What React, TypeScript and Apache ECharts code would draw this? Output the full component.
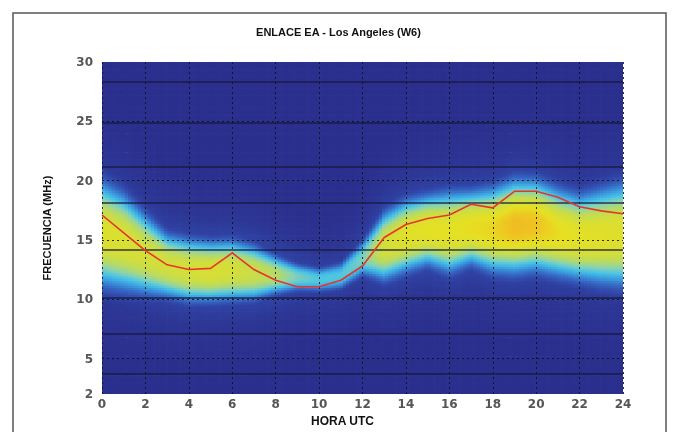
import React, { useEffect, useRef } from 'react';
import * as echarts from 'echarts';

// ---- data ----
const hours = [0, 1, 2, 3, 4, 5, 6, 7, 8, 9, 10, 11, 12, 13, 14, 15, 16, 17, 18, 19, 20, 21, 22, 23, 24];
// red curve (MHz)
const mufValues = [17.1, 15.6, 14.1, 12.9, 12.5, 12.6, 13.9, 12.5, 11.6, 11.05, 11.05, 11.6, 12.8, 15.2, 16.3, 16.8, 17.1, 18.0, 17.7, 19.1, 19.1, 18.6, 17.8, 17.45, 17.2];
// coloured band behind the curve: centre, half width (MHz) and peak intensity per hour
const bandCenter = [15.6, 14.9, 13.85, 12.9, 12.5, 12.4, 12.5, 12.3, 12.1, 11.9, 11.7, 12.0, 13.5, 14.5, 15.4, 15.9, 15.7, 16.1, 15.9, 16.2, 16.3, 15.7, 15.25, 15.35, 15.5];
const bandHalfWidth = [3.8, 3.5, 2.9, 2.3, 2.3, 2.2, 2.2, 2.0, 1.4, 1.0, 0.9, 1.0, 1.3, 2.5, 2.6, 2.5, 2.9, 2.6, 3.0, 3.3, 3.2, 3.1, 3.05, 3.4, 3.7];
const bandPeak = [0.85, 0.84, 0.81, 0.8, 0.81, 0.83, 0.81, 0.77, 0.71, 0.58, 0.52, 0.52, 0.58, 0.81, 0.87, 0.89, 0.89, 0.91, 0.93, 1.0, 0.98, 0.91, 0.88, 0.87, 0.86];
// axis ticks
const yTickValues = [2, 5, 10, 15, 20, 25, 30];
const gridFreqs = [5, 10, 15, 20, 25];
// amateur band marker lines (MHz)
const bandLines = [3.7, 7.1, 10.1, 14.2, 18.1, 21.2, 24.9, 28.3];

const colorScale = ['#2b2f8d', '#2d3796', '#3149ab', '#3669c4', '#3b97dc', '#45c2e8', '#86d2b4', '#b6da66', '#d2de3c', '#e6e022', '#f0bc22'];

function interp(arr: number[], t: number) {
  const k = Math.min(Math.floor(t), arr.length - 2);
  const fr = t - k;
  return arr[k] * (1 - fr) + arr[k + 1] * fr;
}

const COLS = 160;
const ROWS = 140;
const DT = 24 / COLS;
const DF = 28 / ROWS;

function buildField() {
  const out: number[][] = [];
  for (let i = 0; i < COLS; i++) {
    const t0 = i * DT;
    const tc = t0 + DT / 2;
    const c = interp(bandCenter, tc);
    const w = interp(bandHalfWidth, tc);
    const p = interp(bandPeak, tc);
    for (let j = 0; j < ROWS; j++) {
      const f0 = 2 + j * DF;
      const fc = f0 + DF / 2;
      const d = Math.abs(fc - c) / w;
      const core = p * Math.exp(-0.693 * Math.pow(d, 2.6));
      const hz = (fc - c) / (w + 2.5);
      const halo = 0.3 * p * Math.exp(-hz * hz);
      out.push([t0, f0, Math.min(1, Math.max(core, halo))]);
    }
  }
  return out;
}

export default function App() {
  const ref = useRef<HTMLDivElement>(null);
  useEffect(() => {
    if (!ref.current) return;
    const chart = echarts.init(ref.current, undefined, { renderer: 'svg' });
    const field = buildField();
    const markData: any[] = [];
    gridFreqs.forEach((v) =>
      markData.push({ yAxis: v, lineStyle: { color: '#111', width: 1, type: [2, 3], opacity: 0.85 } })
    );
    bandLines.forEach((v) =>
      markData.push({ yAxis: v, lineStyle: { color: '#17173c', width: 1.5, type: 'solid', opacity: 0.85 } })
    );
    chart.setOption({
      animation: false,
      title: {
        text: 'ENLACE EA - Los Angeles (W6)',
        left: 'center',
        top: 21,
        textStyle: { fontFamily: 'Liberation Sans', fontSize: 11, fontWeight: 'bold', color: '#111' },
      },
      graphic: [
        {
          type: 'rect',
          shape: { x: 13, y: 13, width: 653, height: 440 },
          style: { fill: 'none', stroke: '#555', lineWidth: 1.5 },
          silent: true,
        },
      ],
      grid: { left: 102, right: 54, top: 62, bottom: 34, show: false },
      visualMap: {
        show: false,
        type: 'continuous',
        min: 0,
        max: 1,
        dimension: 2,
        seriesIndex: 0,
        inRange: { color: colorScale },
      },
      xAxis: {
        type: 'value',
        min: 0,
        max: 24,
        interval: 2,
        z: 3,
        name: 'HORA UTC',
        nameLocation: 'middle',
        nameGap: 15,
        nameTextStyle: { fontFamily: 'Liberation Sans', fontSize: 12, fontWeight: 'bold', color: '#111', padding: [0, 40, 0, 0] },
        axisLine: { show: false },
        axisTick: { show: false },
        axisLabel: { margin: 4, fontFamily: 'DejaVu Sans', fontSize: 12, fontWeight: 'bold', color: '#555' },
        splitLine: { show: true, lineStyle: { color: '#111', width: 1, type: [2, 3], opacity: 0.85 } },
      },
      yAxis: {
        type: 'value',
        min: 2,
        max: 30,
        z: 3,
        name: 'FRECUENCIA (MHz)',
        nameLocation: 'middle',
        nameGap: 50,
        nameTextStyle: { fontFamily: 'Liberation Sans', fontSize: 11, fontWeight: 'bold', color: '#111' },
        axisLine: { show: false },
        axisTick: { show: false },
        axisLabel: { margin: 9, fontFamily: 'DejaVu Sans', fontSize: 12, fontWeight: 'bold', color: '#555', customValues: yTickValues },
        splitLine: { show: false },
      },
      series: [
        {
          type: 'custom',
          z: 1,
          clip: true,
          silent: true,
          progressive: 0,
          progressiveThreshold: 1000000,
          data: field,
          renderItem: (params: any, api: any) => {
            const t = api.value(0);
            const f = api.value(1);
            const a = api.coord([t, f + DF]);
            const b = api.coord([t + DT, f]);
            return {
              type: 'rect',
              shape: { x: a[0], y: a[1], width: b[0] - a[0] + 0.7, height: b[1] - a[1] + 0.7 },
              style: { fill: api.visual('color') },
            };
          },
        },
        {
          type: 'line',
          z: 10,
          data: hours.map((h, i) => [h, mufValues[i]]),
          symbol: 'none',
          lineStyle: { color: '#e8352b', width: 1.6 },
          markLine: {
            silent: true,
            symbol: ['none', 'none'],
            label: { show: false },
            data: markData,
            z: 4,
          },
        },
      ],
    });
    return () => chart.dispose();
  }, []);
  return <div ref={ref} style={{ position: 'fixed', left: 0, top: 0, width: 677, height: 432 }} />;
}
